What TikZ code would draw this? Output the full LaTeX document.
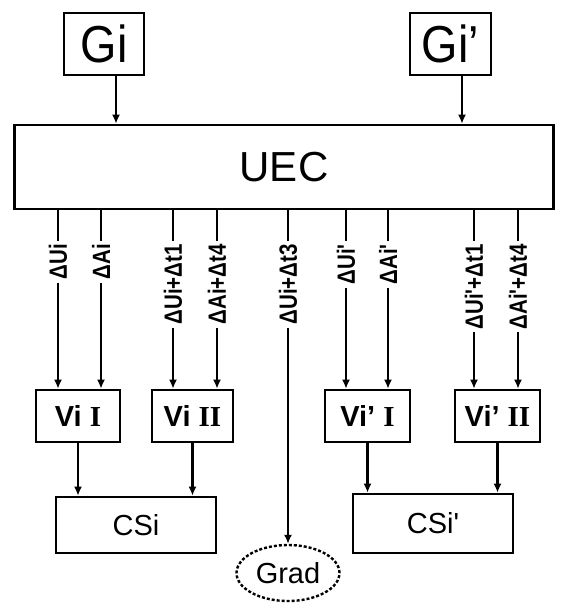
\documentclass[tikz,border=0pt]{standalone}
\usepackage{fontspec}
\newfontfamily\sansf{Liberation Sans}
\newfontfamily\sansn{Liberation Sans}[FakeStretch=0.9]
\newfontfamily\sansl{Liberation Sans}[FakeStretch=0.82]
\newfontfamily\serifb{Liberation Serif}
\usetikzlibrary{arrows.meta,shapes.geometric}
\begin{document}
\begin{tikzpicture}[x=1pt,y=-1pt,
  box/.style={draw,line width=2.6pt,inner sep=0pt},
  conn/.style={line width=2.6pt},
  arr/.style={line width=2.6pt,-{Latex[length=9pt,width=8pt]}},
  lab/.style={rotate=90,anchor=east,inner xsep=3pt,inner ysep=0pt,font=\sansl\bfseries\fontsize{25}{25}\selectfont},
  vbox/.style={box,minimum width=84pt,minimum height=52pt,font=\sansf\bfseries\fontsize{29}{29}\selectfont},
  cbox/.style={box,minimum width=160pt,font=\sansf\fontsize{29}{29}\selectfont},
]
\useasboundingbox (0,0) rectangle (563,603);
% top boxes
\node[box,minimum width=80pt,minimum height=62pt,font=\sansn\fontsize{52}{52}\selectfont] (gi) at (104,44) {Gi};
\node[box,minimum width=81pt,minimum height=62pt,font=\sansn\fontsize{52}{52}\selectfont] (gip) at (450.5,44) {Gi’};
\node[box,minimum width=539pt,minimum height=84pt,font=\sansf\fontsize{42}{42}\selectfont] (uec) at (284,167) {UEC};
\coordinate (gia) at (116,75);
\coordinate (gipa) at (462,75);
\draw[arr] (gia) -- (gia |- uec.north);
\draw[arr] (gipa) -- (gipa |- uec.north);
% V boxes
\node[vbox] (v1) at (78,416) {Vi {\serifb I}};
\node[vbox,minimum width=81pt] (v2) at (192.5,416) {Vi {\serifb II}};
\node[vbox,minimum width=85pt] (v3) at (367.5,416) {Vi’ {\serifb I}};
\node[vbox,minimum width=85pt] (v4) at (497.5,416) {Vi’ {\serifb II}};
% C boxes
\node[cbox,minimum height=56pt] (cs1) at (136,525) {CSi};
\node[cbox,minimum height=59pt] (cs2) at (433,523.5) {CSi'};
\node[draw,ellipse,line width=2.4pt,dash pattern=on 3pt off 2pt,minimum width=103pt,minimum height=56pt,inner sep=0pt,font=\sansf\fontsize{29}{29}\selectfont] (grad) at (288,573) {Grad};
% labels
\node[lab] (l1) at (58,241) {ΔUi};
\node[lab] (l2) at (101,241) {ΔAi};
\node[lab] (l3) at (173,241) {ΔUi+Δt1};
\node[lab] (l4) at (217,241) {ΔAi+Δt4};
\node[lab] (l5) at (288,241) {ΔUi+Δt3};
\node[lab] (l6) at (346,241) {ΔUi'};
\node[lab] (l7) at (388,241) {ΔAi'};
\node[lab] (l8) at (474,241) {ΔUi'+Δt1};
\node[lab] (l9) at (518,241) {ΔAi'+Δt4};
\foreach \l in {l1,l2,l3,l4,l5,l6,l7,l8,l9}
  \draw[conn] (\l.east) -- (\l.east |- uec.south);
\draw[arr] (l1.west) -- (l1.west |- v1.north);
\draw[arr] (l2.west) -- (l2.west |- v1.north);
\draw[arr] (l3.west) -- (l3.west |- v2.north);
\draw[arr] (l4.west) -- (l4.west |- v2.north);
\draw[arr] (l5.west) -- (grad.north);
\draw[arr] (l6.west) -- (l6.west |- v3.north);
\draw[arr] (l7.west) -- (l7.west |- v3.north);
\draw[arr] (l8.west) -- (l8.west |- v4.north);
\draw[arr] (l9.west) -- (l9.west |- v4.north);
% V to CS
\draw[arr] (v1.south) -- (v1.south |- cs1.north);
\draw[arr] (v2.south) -- (v2.south |- cs1.north);
\draw[arr] (v3.south) -- (v3.south |- cs2.north);
\draw[arr] (v4.south) -- (v4.south |- cs2.north);
\end{tikzpicture}
\end{document}
